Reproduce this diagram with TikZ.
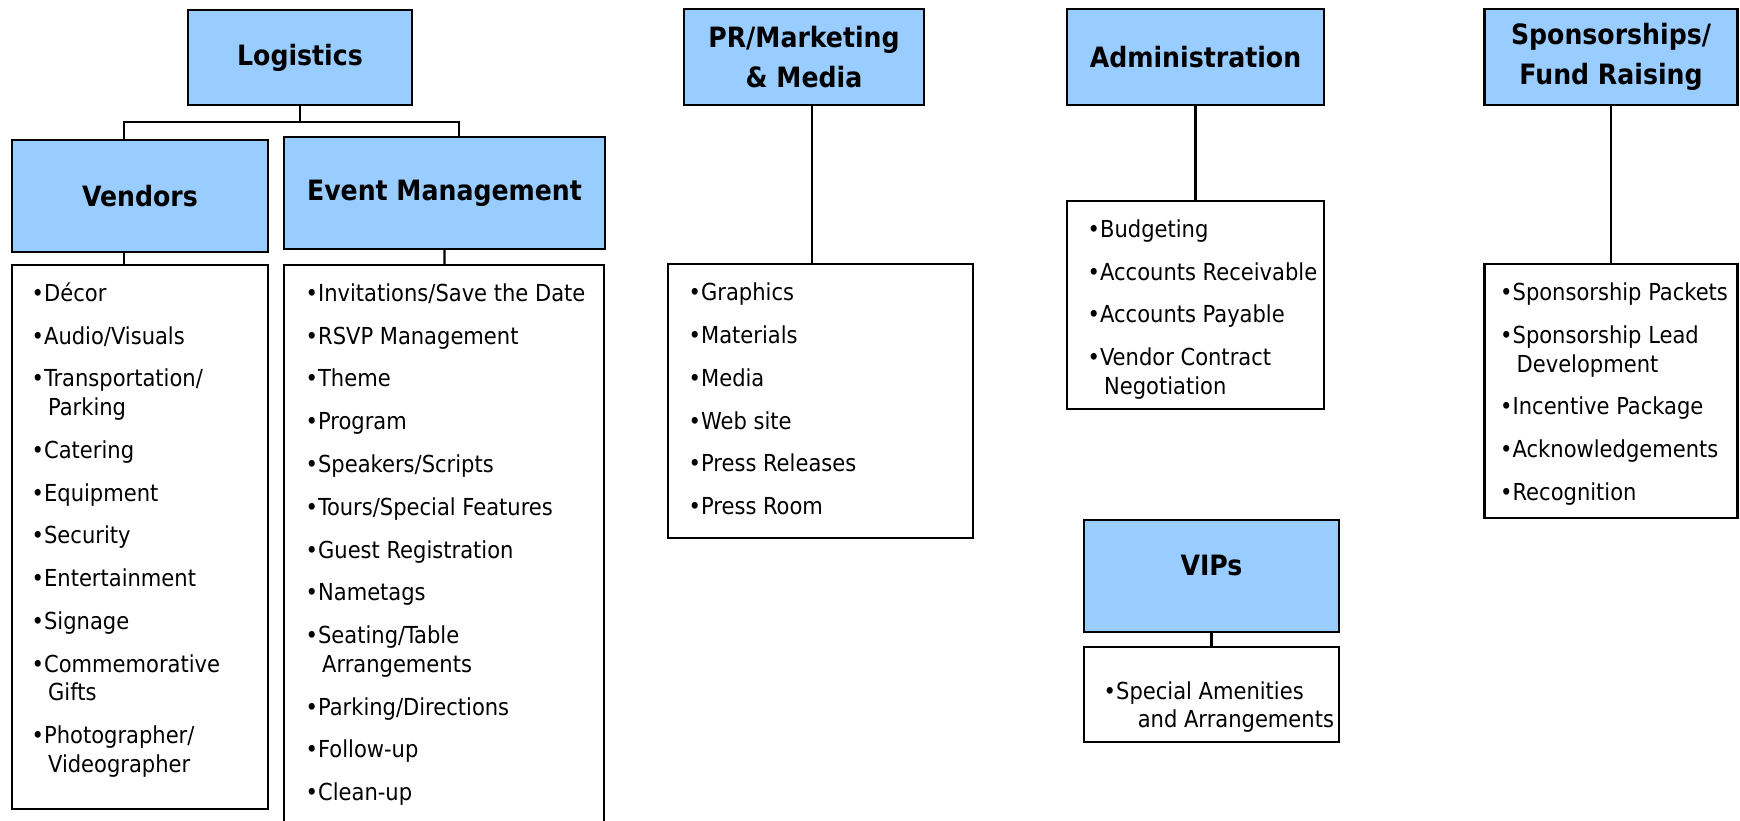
\documentclass[tikz,border=0pt]{standalone}
\usepackage{fontspec}
\setmainfont{DejaVu Sans Condensed}[BoldFont={DejaVu Sans Condensed Bold}]
\usepackage{tikz}
\definecolor{headblue}{RGB}{153,204,255}

% bullet line and wrapped line of a list
\newcommand{\bul}{\strut\textbullet}
\newcommand{\more}[1][4pt]{\strut\phantom{\textbullet}\hspace{#1}}

\begin{document}
\begin{tikzpicture}[x=1pt, y=-1pt,
        head/.style={draw, line width=2.2pt, fill=headblue, align=center, inner sep=0pt,
            font=\fontsize{28}{40}\selectfont\bfseries},
        listbox/.style={draw, line width=2.2pt, fill=white, inner sep=0pt},
        items/.style={anchor=north west, align=left, inner sep=0pt,
            font=\fontsize{23.4}{28.6}\selectfont},
        link/.style={line width=2.2pt}]
        \useasboundingbox (0, 0) rectangle (1740, 821);
        % Heads
        \node [head, minimum width=224pt, minimum height=95pt] (logistics) at (300, 57.5) {Logistics};
        \node [head, minimum width=256pt, minimum height=112pt] (vendors) at (140, 196) {Vendors};
        \node [head, minimum width=321pt, minimum height=112pt] (eventmgmt) at (444.5, 193) {Event Management};
        \node [head, minimum width=240pt, minimum height=96pt] (prmedia) at (804, 57) {PR/Marketing\\ \& Media};
        \node [head, minimum width=257pt, minimum height=96pt] (admin) at (1195.5, 57) {Administration};
        \node [head, minimum width=255pt, minimum height=112pt, text depth=21pt] (vips) at (1211.5, 576) {VIPs};
        \node [head, minimum width=253pt, minimum height=96pt] (sponsors) at (1611, 57) {Sponsorships/\\ Fund Raising};
        % List boxes
        \node [listbox, minimum width=256pt, minimum height=544pt] (vendorlist) at (140, 537) {};
        \node [listbox, minimum width=320pt, minimum height=570pt] (eventlist) at (444, 550) {};
        \node [listbox, minimum width=305pt, minimum height=274pt] (prlist) at (820.5, 401) {};
        \node [listbox, minimum width=257pt, minimum height=208pt] (adminlist) at (1195.5, 305) {};
        \node [listbox, minimum width=255pt, minimum height=95pt] (viplist) at (1211.5, 694.5) {};
        \node [listbox, minimum width=253pt, minimum height=254pt] (sponsorlist) at (1611, 391) {};
        % Lines
        \draw [link] (logistics.south) -- ++(0, 16) coordinate (split);
        \draw [link] ([xshift=-16pt]vendors.north) |- (split) -| ([xshift=14.5pt]eventmgmt.north);
        \draw [link] ([xshift=-16pt]vendors.south) -- ([xshift=-16pt]vendorlist.north);
        \draw [link] (eventmgmt) -- (eventlist);
        \draw [link] ([xshift=8pt]prmedia.south) -- ([xshift=8pt]prmedia.south |- prlist.north);
        \draw [link] (admin) -- (adminlist);
        \draw [link] (vips) -- (viplist);
        \draw [link] (sponsors) -- (sponsorlist);
        % Items
        \node [items] (vendoritems) at (31.5, 281) {\bul Décor\\[14.2pt]
            \bul Audio/Visuals\\[14.2pt]
            \bul Transportation/\\ \more Parking\\[14.2pt]
            \bul Catering\\[14.2pt]
            \bul Equipment\\[14.2pt]
            \bul Security\\[14.2pt]
            \bul Entertainment\\[14.2pt]
            \bul Signage\\[14.2pt]
            \bul Commemorative\\ \more Gifts\\[14.2pt]
            \bul Photographer/\\ \more Videographer};
        \node [items] (eventitems) at (305.5, 281) {\bul Invitations/Save the Date\\[14.2pt]
            \bul RSVP Management\\[14.2pt]
            \bul Theme\\[14.2pt]
            \bul Program\\[14.2pt]
            \bul Speakers/Scripts\\[14.2pt]
            \bul Tours/Special Features\\[14.2pt]
            \bul Guest Registration\\[14.2pt]
            \bul Nametags\\[14.2pt]
            \bul Seating/Table\\ \more Arrangements\\[14.2pt]
            \bul Parking/Directions\\[14.2pt]
            \bul Follow-up\\[14.2pt]
            \bul Clean-up};
        \node [items] (pritems) at (688.5, 280.5) {\bul Graphics\\[14.2pt]
            \bul Materials\\[14.2pt]
            \bul Media\\[14.2pt]
            \bul Web site\\[14.2pt]
            \bul Press Releases\\[14.2pt]
            \bul Press Room};
        \node [items] (adminitems) at (1087.5, 217) {\bul Budgeting\\[14.2pt]
            \bul Accounts Receivable\\[14.2pt]
            \bul Accounts Payable\\[14.2pt]
            \bul Vendor Contract\\ \more Negotiation};
        \node [items] (vipitems) at (1103.5, 679) {\bul Special Amenities\\ \more[15pt] and Arrangements};
        \node [items] (sponsoritems) at (1500, 280.5) {\bul Sponsorship Packets\\[14.2pt]
            \bul Sponsorship Lead\\ \more Development\\[14.2pt]
            \bul Incentive Package\\[14.2pt]
            \bul Acknowledgements\\[14.2pt]
            \bul Recognition};
    \end{tikzpicture}
\end{document}
